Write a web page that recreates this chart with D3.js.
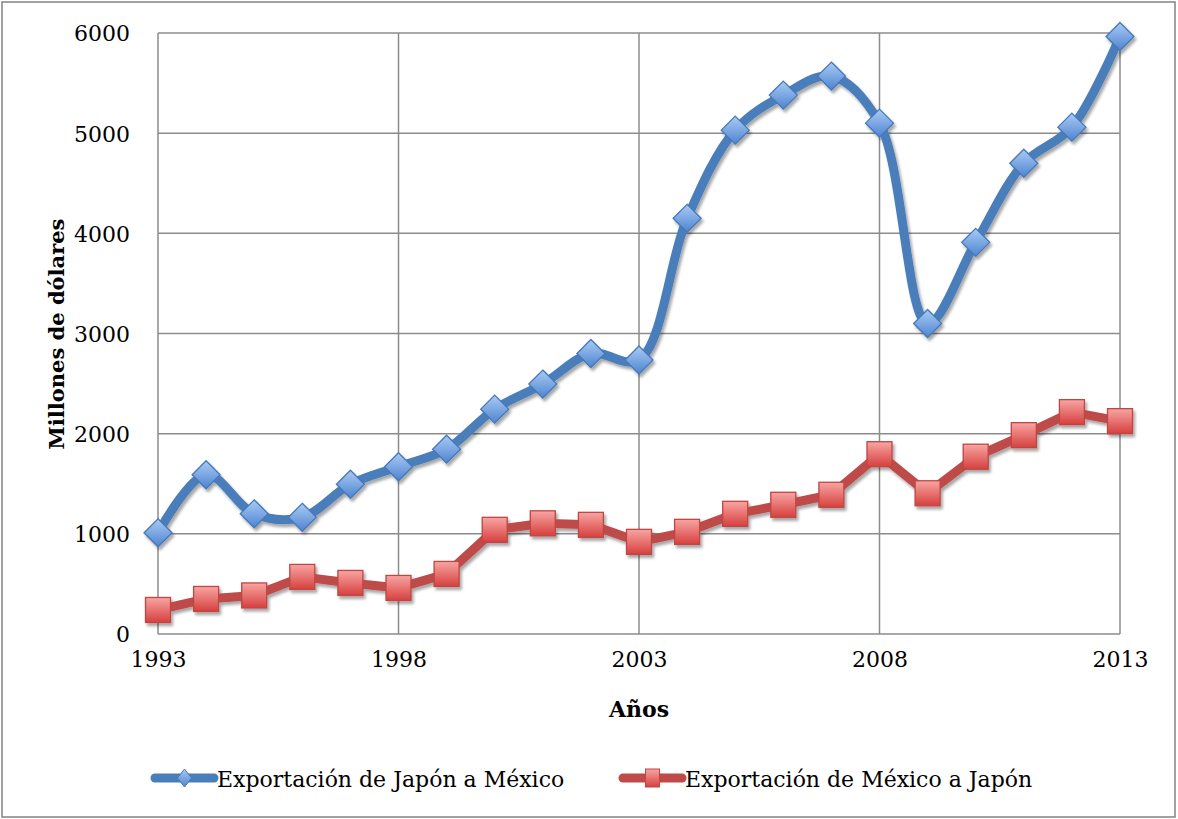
<!DOCTYPE html>
<html>
<head>
<meta charset="utf-8">
<script src="https://cdn.jsdelivr.net/npm/d3@7"></script>
<style>
  html, body { margin: 0; padding: 0; background: #fff; }
  svg { display: block; }
  text { font-family: "DejaVu Serif", "Liberation Serif", serif; fill: #000; }
</style>
</head>
<body>
<svg id="chart" width="1178" height="819"></svg>
<script>
/*** DATA ***/
const years = [1993, 1994, 1995, 1996, 1997, 1998, 1999, 2000, 2001, 2002, 2003,
               2004, 2005, 2006, 2007, 2008, 2009, 2010, 2011, 2012, 2013];
const japonAMexico = [1010, 1590, 1200, 1165, 1495, 1670, 1845, 2245, 2495, 2800, 2735,
                      4150, 5030, 5380, 5570, 5100, 3100, 3910, 4700, 5060, 5965];
const mexicoAJapon = [240, 350, 385, 570, 510, 460, 600, 1040, 1105, 1090, 920,
                      1020, 1200, 1290, 1390, 1795, 1405, 1770, 1985, 2215, 2125];
const yTicks = [0, 1000, 2000, 3000, 4000, 5000, 6000];
const xTicks = [1993, 1998, 2003, 2008, 2013];
const seriesNames = ["Exportación de Japón a México", "Exportación de México a Japón"];

/*** LAYOUT ***/
const plot = {left: 158, right: 1120, top: 33, bottom: 634};
const gridCol = "#8c8c8c";
const blueLine = "#4a7ebb";
const redLine = "#be4b48";

const svg = d3.select("#chart");

const x = d3.scaleLinear().domain([1993, 2013]).range([plot.left, plot.right]);
const y = d3.scaleLinear().domain([0, 6000]).range([plot.bottom, plot.top]);

/*** DEFS ***/
const defs = svg.append("defs");

const shadow = defs.append("filter").attr("id", "shadow")
  .attr("x", "-50%").attr("y", "-50%").attr("width", "200%").attr("height", "200%");
shadow.append("feGaussianBlur").attr("in", "SourceAlpha").attr("stdDeviation", 1.8).attr("result", "b");
shadow.append("feOffset").attr("in", "b").attr("dx", 1.5).attr("dy", 2.5).attr("result", "o");
shadow.append("feComponentTransfer").attr("in", "o").attr("result", "s")
  .append("feFuncA").attr("type", "linear").attr("slope", 0.35);
const merge = shadow.append("feMerge");
merge.append("feMergeNode").attr("in", "s");
merge.append("feMergeNode").attr("in", "SourceGraphic");

const gBlue = defs.append("linearGradient").attr("id", "gradBlue")
  .attr("x1", 0).attr("y1", 0).attr("x2", 0).attr("y2", 1);
gBlue.append("stop").attr("offset", "0%").attr("stop-color", "#a9cbf5");
gBlue.append("stop").attr("offset", "100%").attr("stop-color", "#4f84d0");

const gRed = defs.append("linearGradient").attr("id", "gradRed")
  .attr("x1", 0).attr("y1", 0).attr("x2", 0).attr("y2", 1);
gRed.append("stop").attr("offset", "0%").attr("stop-color", "#f8a5a3");
gRed.append("stop").attr("offset", "100%").attr("stop-color", "#d6403e");

/*** FRAME ***/
svg.append("rect")
  .attr("x", 2).attr("y", 2).attr("width", 1173).attr("height", 815)
  .attr("fill", "#fff").attr("stroke", "#8a8a8a").attr("stroke-width", 1.6);

/*** GRID + AXES ***/
const grid = svg.append("g");
grid.selectAll("line.h").data(yTicks).enter().append("line")
  .attr("x1", plot.left).attr("x2", plot.right)
  .attr("y1", d => y(d)).attr("y2", d => y(d))
  .attr("stroke", gridCol).attr("stroke-width", 1.5);
grid.selectAll("line.v").data(xTicks).enter().append("line")
  .attr("y1", plot.top).attr("y2", plot.bottom)
  .attr("x1", d => x(d)).attr("x2", d => x(d))
  .attr("stroke", gridCol).attr("stroke-width", 1.5);

const yAxis = svg.append("g")
  .attr("transform", `translate(${plot.left},0)`)
  .call(d3.axisLeft(y).tickValues(yTicks).tickSize(0).tickPadding(28).tickFormat(d3.format("d")));
yAxis.select(".domain").remove();
yAxis.selectAll("text").style("font-size", "22px").attr("dy", "0.36em");

const xAxis = svg.append("g")
  .attr("transform", `translate(0,${plot.bottom})`)
  .call(d3.axisBottom(x).tickValues(xTicks).tickSize(0).tickPadding(26).tickFormat(d3.format("d")));
xAxis.select(".domain").remove();
xAxis.selectAll("text").style("font-size", "22px").attr("dy", "0.3em");

svg.append("text")
  .attr("x", (plot.left + plot.right) / 2).attr("y", 717)
  .attr("text-anchor", "middle")
  .style("font-size", "22px").style("font-weight", "bold")
  .text("Años");

svg.append("text")
  .attr("transform", "translate(64,334) rotate(-90)")
  .attr("text-anchor", "middle")
  .style("font-size", "21px").style("font-weight", "bold")
  .text("Millones de dólares");

/*** SERIES ***/
const blueData = years.map((yr, i) => [yr, japonAMexico[i]]);
const redData = years.map((yr, i) => [yr, mexicoAJapon[i]]);

const lineSmooth = d3.line().x(d => x(d[0])).y(d => y(d[1])).curve(d3.curveCatmullRom.alpha(0.5));
const lineStraight = d3.line().x(d => x(d[0])).y(d => y(d[1]));

const series = svg.append("g").attr("filter", "url(#shadow)");

series.append("path").datum(redData)
  .attr("d", lineStraight)
  .attr("fill", "none").attr("stroke", redLine).attr("stroke-width", 9)
  .attr("stroke-linejoin", "round").attr("stroke-linecap", "round");

series.append("path").datum(blueData)
  .attr("d", lineSmooth)
  .attr("fill", "none").attr("stroke", blueLine).attr("stroke-width", 9)
  .attr("stroke-linejoin", "round").attr("stroke-linecap", "round");

const sq = 25, dm = 14;
series.selectAll("rect.pt").data(redData).enter().append("rect")
  .attr("x", d => x(d[0]) - sq / 2).attr("y", d => y(d[1]) - sq / 2)
  .attr("width", sq).attr("height", sq)
  .attr("fill", "url(#gradRed)").attr("stroke", "#bf4643").attr("stroke-width", 1.3);

series.selectAll("path.pt").data(blueData).enter().append("path")
  .attr("d", d => `M${x(d[0])},${y(d[1]) - dm}L${x(d[0]) + dm},${y(d[1])}L${x(d[0])},${y(d[1]) + dm}L${x(d[0]) - dm},${y(d[1])}Z`)
  .attr("fill", "url(#gradBlue)").attr("stroke", "#4678b8").attr("stroke-width", 1.3);

/*** LEGEND ***/
const legendY = 778;
const legend = svg.append("g");
const items = [
  {name: seriesNames[0], col: blueLine, x0: 155, tx: 217, kind: "diamond"},
  {name: seriesNames[1], col: redLine, x0: 623, tx: 685, kind: "square"}
];
items.forEach(it => {
  const g = legend.append("g");
  g.append("line")
    .attr("x1", it.x0).attr("x2", it.x0 + 59).attr("y1", legendY).attr("y2", legendY)
    .attr("stroke", it.col).attr("stroke-width", 9).attr("stroke-linecap", "round");
  const cx = it.x0 + 29.5;
  if (it.kind === "diamond") {
    g.append("path")
      .attr("d", `M${cx},${legendY - 9}L${cx + 7},${legendY}L${cx},${legendY + 9}L${cx - 7},${legendY}Z`)
      .attr("fill", "url(#gradBlue)").attr("stroke", "#4678b8").attr("stroke-width", 1);
  } else {
    g.append("rect")
      .attr("x", cx - 7).attr("y", legendY - 9).attr("width", 14).attr("height", 18)
      .attr("fill", "url(#gradRed)").attr("stroke", "#bf4643").attr("stroke-width", 1);
  }
  g.append("text")
    .attr("x", it.tx).attr("y", legendY + 9)
    .style("font-size", "22px")
    .text(it.name);
});
</script>
</body>
</html>
